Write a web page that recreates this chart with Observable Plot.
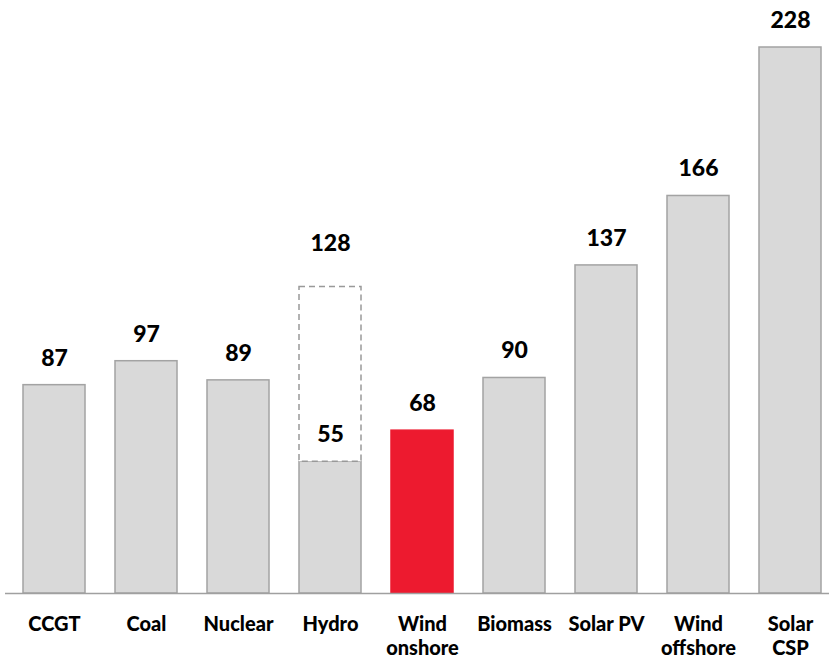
<!DOCTYPE html>
<html>
<head>
<meta charset="utf-8">
<script src="https://cdn.jsdelivr.net/npm/d3@7"></script>
<script src="https://cdn.jsdelivr.net/npm/@observablehq/plot@0.6"></script>
<style>
  html, body { margin: 0; padding: 0; background: #fff; }
  #chart svg { display: block; }
</style>
</head>
<body>
<div id="chart"></div>
<script>
const categories = ["CCGT","Coal","Nuclear","Hydro","Wind onshore","Biomass","Solar PV","Wind offshore","Solar CSP"];
const tickLabels = ["CCGT","Coal","Nuclear","Hydro","Wind\nonshore","Biomass","Solar PV","Wind\noffshore","Solar\nCSP"];
const values = [87, 97, 89, 55, 68, 90, 137, 166, 228];
const hydroUpper = 128;
const highlighted = "Wind onshore";

const GRAY = "#d9d9d9";
const EDGE = "#a3a3a3";
const RED = "#ed1a2f";

const data = categories.map((c, i) => ({category: c, value: values[i]}));
const hydroBox = [{category: "Hydro", y1: values[categories.indexOf("Hydro")], y2: hydroUpper}];

const chart = Plot.plot({
  width: 829,
  height: 663,
  marginTop: 47,
  marginBottom: 70,
  marginLeft: 21,
  marginRight: 6,
  style: {fontFamily: "Lato, 'Open Sans', sans-serif", fontWeight: "900", color: "#000", background: "#fff"},
  x: {domain: categories, paddingInner: 0.324, paddingOuter: 0, axis: null},
  y: {domain: [0, 228], axis: null},
  color: {type: "identity"},
  marks: [
    Plot.barY(data, {
      x: "category", y: "value",
      fill: d => d.category === highlighted ? RED : GRAY,
      stroke: d => d.category === highlighted ? RED : EDGE,
      strokeWidth: 1.5
    }),
    Plot.barY(hydroBox, {
      x: "category", y1: "y1", y2: "y2",
      fill: "white", stroke: "#999", strokeWidth: 1.5, strokeDasharray: "6,4"
    }),
    Plot.text(data, {
      x: "category", y: "value", text: d => String(d.value),
      dy: -27, lineAnchor: "middle", fontSize: 23, fontWeight: "900", fill: "#000"
    }),
    Plot.text(hydroBox, {
      x: "category", y: "y2", text: d => String(d.y2),
      dy: -43, lineAnchor: "middle", fontSize: 23, fontWeight: "900", fill: "#000"
    }),
    Plot.ruleY([0], {stroke: "#a0a0a0", strokeWidth: 1.5, insetLeft: -16, insetRight: -6}),
    Plot.axisX({
      label: null,
      tickSize: 0, tickPadding: 21,
      tickFormat: d => tickLabels[categories.indexOf(d)],
      fontSize: 20, fontWeight: "900", fill: "#000", lineHeight: 1.17
    })
  ]
});
document.getElementById("chart").appendChild(chart);
</script>
</body>
</html>
